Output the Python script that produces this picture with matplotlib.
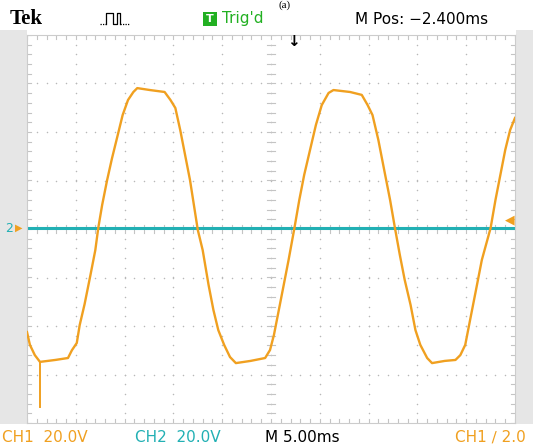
import numpy as np
import matplotlib.pyplot as plt
from matplotlib.patches import Rectangle

# CH1 trace: time in ms, voltage in V
t_ms = [0.0, 0.3, 0.8, 1.33, 2.9, 4.2, 4.6, 5.1, 5.4, 5.9, 6.5, 7.0, 7.3, 7.7,
        8.2, 8.7, 9.3, 9.8, 10.35, 10.9, 11.3, 12.6, 14.1, 14.7, 15.2, 15.7,
        16.2, 16.7, 17.1, 17.5, 18.0, 18.6, 19.1, 19.6, 20.2, 20.8, 21.4, 22.9,
        24.4, 24.9, 25.3, 25.7, 26.2, 26.8, 27.4, 27.9, 28.4, 29.0, 29.6, 30.2,
        30.9, 31.4, 33.1, 34.3, 34.9, 35.4, 36.0, 36.6, 37.2, 37.7, 38.2, 38.7,
        39.3, 39.8, 40.3, 41.0, 41.5, 42.8, 43.9, 44.4, 44.9, 45.4, 46.0, 46.6,
        47.5, 48.0, 48.5, 49.0, 49.5, 50.0]
ch1_v = [-42.5, -47.8, -52.0, -54.8, -54.0, -53.2, -50.0, -47.0, -39.6, -31.0,
         -19.0, -8.7, 0.4, 9.9, 20.0, 29.0, 38.8, 47.0, 53.2, 56.5, 58.1, 57.3,
         56.5, 53.2, 49.9, 40.8, 30.5, 20.2, 9.9, -0.4, -8.7, -23.0, -33.4,
         -41.7, -47.8, -52.8, -55.3, -54.4, -53.2, -49.9, -43.7, -35.5, -25.2,
         -12.8, 0.4, 12.0, 22.3, 32.6, 42.9, 51.1, 56.1, 57.3, 56.5, 55.3, 51.1,
         47.0, 36.7, 24.3, 12.0, 0.4, -10.7, -21.0, -31.3, -41.7, -47.8, -53.2,
         -55.3, -54.4, -54.0, -52.0, -47.8, -37.5, -25.2, -12.8, 0.4, 12.0, 22.3,
         32.6, 40.8, 45.8]
spike_t = [1.33, 1.33]
spike_v = [-54.8, -73.4]

# CH2 is flat at ground
ch2_t = [0.0, 50.0]
ch2_v = [0.3, 0.3]

ms_per_div = 5.0
v_per_div = 20.0

orange = '#f0a020'
teal = '#22b0b4'

W, H = 533, 446
fig = plt.figure(figsize=(W / 100, H / 100), dpi=100)
fig.patch.set_facecolor('white')

# gray side strips of the scope screen
fig.add_artist(Rectangle((0, 22 / H), 27 / W, 1 - 52 / H, transform=fig.transFigure,
                         facecolor='#e6e6e6', edgecolor='none', zorder=0))
fig.add_artist(Rectangle((516 / W, 22 / H), 17 / W, 1 - 52 / H, transform=fig.transFigure,
                         facecolor='#e6e6e6', edgecolor='none', zorder=0))

ax = fig.add_axes([27 / W, (H - 423) / H, 488 / W, 388 / H])
ax.set_xlim(0, 10 * ms_per_div)
ax.set_ylim(-4 * v_per_div, 4 * v_per_div)
ax.set_xticks([])
ax.set_yticks([])
for s in ax.spines.values():
    s.set_color('#cccccc')
    s.set_linewidth(0.8)

# graticule dots every 0.2 div along the grid lines
fine_x = np.arange(0, 10.01, 0.2) * ms_per_div
fine_y = np.arange(-4, 4.01, 0.2) * v_per_div
for k in range(1, 10):
    ax.scatter(np.full(len(fine_y), k * ms_per_div), fine_y, s=1.2, color='#b8b8b8', lw=0, zorder=1)
for k in range(-3, 4):
    ax.scatter(fine_x, np.full(len(fine_x), k * v_per_div), s=1.2, color='#b8b8b8', lw=0, zorder=1)

# edge and centre tick marks
tick_h = 0.08 * v_per_div
tick_w = 0.08 * ms_per_div
tc = '#c4c4c4'
for x in fine_x:
    ax.plot([x, x], [4 * v_per_div, 4 * v_per_div - tick_h], color=tc, lw=0.8, zorder=1)
    ax.plot([x, x], [-4 * v_per_div, -4 * v_per_div + tick_h], color=tc, lw=0.8, zorder=1)
    ax.plot([x, x], [-tick_h, tick_h], color=tc, lw=0.8, zorder=1)
for y in fine_y:
    ax.plot([0, tick_w], [y, y], color=tc, lw=0.8, zorder=1)
    ax.plot([10 * ms_per_div, 10 * ms_per_div - tick_w], [y, y], color=tc, lw=0.8, zorder=1)
    ax.plot([5 * ms_per_div - tick_w, 5 * ms_per_div + tick_w], [y, y], color=tc, lw=0.8, zorder=1)

# traces
ax.plot(ch2_t, ch2_v, color=teal, lw=2.2, zorder=2)
ax.plot(t_ms, ch1_v, color=orange, lw=1.7, zorder=3)
ax.plot(spike_t, spike_v, color=orange, lw=1.4, zorder=3)

# header
fig.text(10 / W, 1 - 19 / H, 'Tek', fontsize=15, fontweight='bold',
         family='Liberation Serif', va='center', ha='left')
px = np.array([106, 106, 113, 113, 117, 117, 120, 120])
py = np.array([24, 13, 13, 24, 24, 13, 13, 24])
fig.add_artist(plt.Line2D(px / W, 1 - py / H, color='black', lw=0.9))
fig.add_artist(plt.Line2D([100 / W, 106 / W], [1 - 24 / H] * 2, color='black', lw=0.9, ls=(0, (1, 1))))
fig.add_artist(plt.Line2D([120 / W, 129 / W], [1 - 24 / H] * 2, color='black', lw=0.9, ls=(0, (1, 1))))
fig.add_artist(Rectangle((203 / W, 1 - 26 / H), 14 / W, 14 / H, transform=fig.transFigure,
                         facecolor='#22b022', edgecolor='none'))
fig.text(210 / W, 1 - 19 / H, 'T', fontsize=8, color='white', fontweight='bold', ha='center', va='center')
fig.text(222 / W, 1 - 19 / H, "Trig'd", fontsize=11, color='#22b022', va='center', ha='left')
fig.text(355 / W, 1 - 19 / H, 'M Pos: \u22122.400ms', fontsize=11, color='black', va='center', ha='left')
fig.text(285 / W, 1 - 5 / H, '(a)', fontsize=8, family='Liberation Serif', ha='center', va='center')
fig.text(293 / W, 1 - 42 / H, '\u2193', fontsize=11, fontweight='bold', ha='center', va='center')

# channel markers
fig.text(9 / W, 1 - 228 / H, '2', fontsize=9, color=teal, ha='center', va='center')
fig.text(19 / W, 1 - 228 / H, '\u25B6', fontsize=7, color=orange, ha='center', va='center')
fig.text(510 / W, 1 - 220 / H, '\u25C0', fontsize=9, color=orange, ha='center', va='center')

# footer
fig.text(2 / W, 1 - 437 / H, 'CH1  20.0V', fontsize=11, color=orange, va='center', ha='left')
fig.text(135 / W, 1 - 437 / H, 'CH2  20.0V', fontsize=11, color=teal, va='center', ha='left')
fig.text(265 / W, 1 - 437 / H, 'M 5.00ms', fontsize=11, color='black', va='center', ha='left')
fig.text(455 / W, 1 - 437 / H, 'CH1 \u2215 2.0', fontsize=11, color=orange, va='center', ha='left')

fig.savefig('out.png', dpi=100)
